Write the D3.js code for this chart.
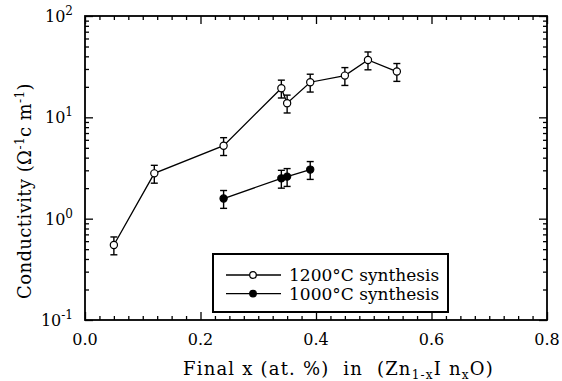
<!DOCTYPE html>
<html>
<head>
<meta charset="utf-8">
<script src="https://cdn.jsdelivr.net/npm/d3@7"></script>
<style>
  body { margin: 0; background: #fff; }
  svg { display: block; }
  text { font-family: "DejaVu Serif", serif; fill: #000; white-space: pre; }
</style>
</head>
<body>
<svg id="chart" width="562" height="381"></svg>
<script>
// data
var x1200 = [0.05, 0.12, 0.24, 0.34, 0.35, 0.39, 0.45, 0.49, 0.54];
var sig1200 = [0.55, 2.8, 5.25, 19.4, 13.8, 22.2, 25.8, 36.8, 28.3];
var x1000 = [0.24, 0.34, 0.35, 0.39];
var sig1000 = [1.58, 2.5, 2.6, 3.05];
var errFrac = 0.2; // +-20% error bars
var xTicks = [0.0, 0.2, 0.4, 0.6, 0.8];
var yTicks = [0.1, 1, 10, 100];
var yExp = ["-1", "0", "1", "2"];
var seriesNames = ["1200\u00b0C synthesis", "1000\u00b0C synthesis"];

(function() {
var svg = d3.select("#chart");
var pL = 85, pR = 547, pT = 16, pB = 320;

var x = d3.scaleLinear().domain([0, 0.8]).range([pL, pR]);
var y = d3.scaleLog().domain([0.1, 100]).range([pB, pT]);

var xMinor = d3.range(0, 0.8001, 0.025).filter(function(v) { return Math.abs(v / 0.2 - Math.round(v / 0.2)) > 1e-6; });
var yMinor = [];
[0.1, 1, 10].forEach(function(d) { for (var k = 2; k <= 9; k++) yMinor.push(d * k); });

function tickAxis(axisFn, scale, vals, size, transform) {
  var g = svg.append("g").attr("transform", transform)
    .call(axisFn(scale).tickValues(vals).tickSize(size).tickFormat(""));
  g.select(".domain").remove();
  g.selectAll("line").attr("stroke", "#000").attr("stroke-width", 1.3);
  return g;
}
// bottom & top
tickAxis(d3.axisBottom, x, xTicks, -8, "translate(0," + pB + ")");
tickAxis(d3.axisBottom, x, xMinor, -4, "translate(0," + pB + ")");
tickAxis(d3.axisTop, x, xTicks, -8, "translate(0," + pT + ")");
tickAxis(d3.axisTop, x, xMinor, -4, "translate(0," + pT + ")");
// left & right
tickAxis(d3.axisLeft, y, yTicks, -8, "translate(" + pL + ",0)");
tickAxis(d3.axisLeft, y, yMinor, -4, "translate(" + pL + ",0)");
tickAxis(d3.axisRight, y, yTicks, -8, "translate(" + pR + ",0)");
tickAxis(d3.axisRight, y, yMinor, -4, "translate(" + pR + ",0)");

// frame
svg.append("rect").attr("x", pL).attr("y", pT)
  .attr("width", pR - pL).attr("height", pB - pT)
  .attr("fill", "none").attr("stroke", "#000").attr("stroke-width", 1.8);

// x tick labels
svg.selectAll(".xl").data(xTicks).enter().append("text")
  .attr("x", function(d) { return x(d); }).attr("y", 345)
  .attr("text-anchor", "middle").attr("font-size", 16)
  .text(function(d) { return d.toFixed(1); });

// y tick labels
yTicks.forEach(function(d, i) {
  var t = svg.append("text").attr("x", 73).attr("y", y(d) + 6)
    .attr("text-anchor", "end").attr("font-size", 16);
  t.append("tspan").text("10");
  t.append("tspan").attr("dy", -7).attr("font-size", 12).text(yExp[i]);
});

// axis titles
var xt = svg.append("text").attr("x", 183).attr("y", 375)
  .attr("font-size", 18).attr("letter-spacing", 1.2);
xt.append("tspan").text("Final x (at. %)  in  (Zn");
xt.append("tspan").attr("dy", 4).attr("font-size", 12).text("1-x");
xt.append("tspan").attr("dy", -4).text("I n");
xt.append("tspan").attr("dy", 4).attr("font-size", 12).text("x");
xt.append("tspan").attr("dy", -4).text("O)");

var yt = svg.append("text").attr("transform", "translate(31,191) rotate(-90)")
  .attr("text-anchor", "middle").attr("font-size", 18).attr("letter-spacing", 0.4);
yt.append("tspan").text("Conductivity (\u03a9");
yt.append("tspan").attr("dy", -7).attr("font-size", 12).text("-1");
yt.append("tspan").attr("dy", 7).text("c m");
yt.append("tspan").attr("dy", -7).attr("font-size", 12).text("-1");
yt.append("tspan").attr("dy", 7).text(")");

// series
function drawSeries(xs, ys, filled) {
  var pts = xs.map(function(v, i) { return [v, ys[i]]; });
  var line = d3.line().x(function(d) { return x(d[0]); }).y(function(d) { return y(d[1]); });
  svg.append("path").attr("d", line(pts)).attr("fill", "none")
    .attr("stroke", "#000").attr("stroke-width", 1.3);
  var g = svg.append("g");
  pts.forEach(function(p) {
    var cx = x(p[0]), hi = y(p[1] * (1 + errFrac)), lo = y(p[1] * (1 - errFrac));
    g.append("line").attr("x1", cx).attr("x2", cx).attr("y1", hi).attr("y2", lo)
      .attr("stroke", "#000").attr("stroke-width", 1.4);
    [hi, lo].forEach(function(yy) {
      g.append("line").attr("x1", cx - 3.5).attr("x2", cx + 3.5).attr("y1", yy).attr("y2", yy)
        .attr("stroke", "#000").attr("stroke-width", 1.4);
    });
    g.append("circle").attr("cx", cx).attr("cy", y(p[1])).attr("r", 3.6)
      .attr("fill", filled ? "#000" : "#fff").attr("stroke", "#000").attr("stroke-width", 1.2);
  });
}
drawSeries(x1200, sig1200, false);
drawSeries(x1000, sig1000, true);

// legend
var lg = svg.append("g");
lg.append("rect").attr("x", 213).attr("y", 254).attr("width", 235).attr("height", 58)
  .attr("fill", "#fff").attr("stroke", "#000").attr("stroke-width", 2);
seriesNames.forEach(function(name, i) {
  var yy = 275 + i * 18.6;
  lg.append("line").attr("x1", 226).attr("x2", 281).attr("y1", yy).attr("y2", yy)
    .attr("stroke", "#000").attr("stroke-width", 1.3);
  lg.append("circle").attr("cx", 253).attr("cy", yy).attr("r", 3.3)
    .attr("fill", i === 1 ? "#000" : "#fff").attr("stroke", "#000").attr("stroke-width", 1.2);
  lg.append("text").attr("x", 289).attr("y", yy + 6).attr("font-size", 17).text(name);
});
})();
</script>
</body>
</html>
